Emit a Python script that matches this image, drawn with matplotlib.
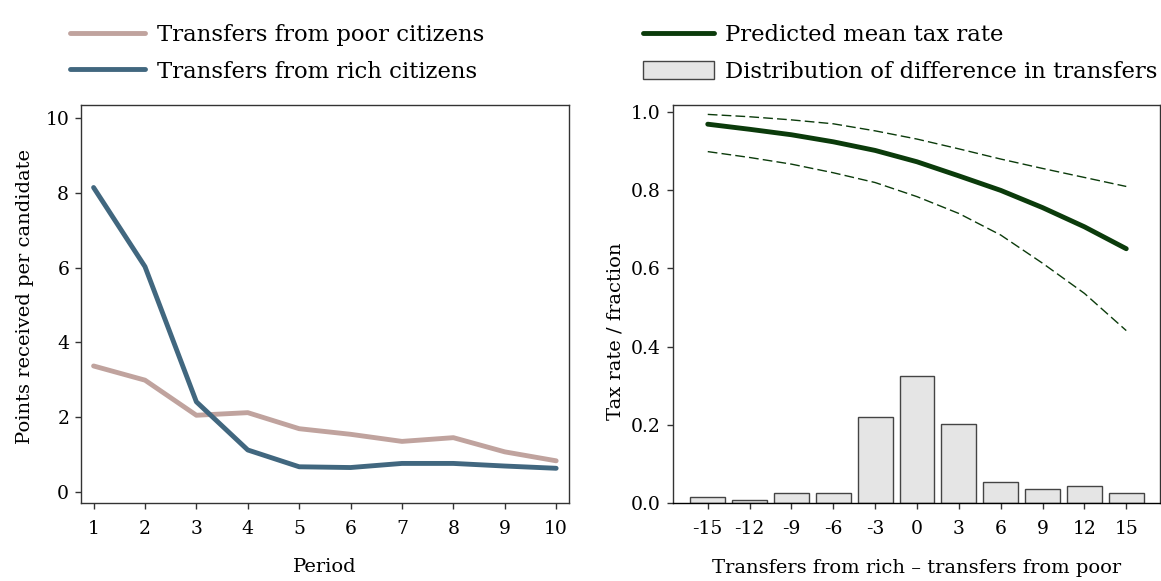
import matplotlib
matplotlib.use("Agg")
import matplotlib.pyplot as plt
from matplotlib.patches import Patch
from matplotlib.lines import Line2D

plt.rcParams['font.family'] = ['DejaVu Serif']

# Left panel data
periods = [1, 2, 3, 4, 5, 6, 7, 8, 9, 10]
poor = [3.37, 2.99, 2.05, 2.12, 1.69, 1.54, 1.35, 1.45, 1.07, 0.83]
rich = [8.15, 6.03, 2.41, 1.12, 0.67, 0.65, 0.76, 0.76, 0.69, 0.63]

# Right panel data
diffs = [-15, -12, -9, -6, -3, 0, 3, 6, 9, 12, 15]
dist = [0.017, 0.008, 0.027, 0.027, 0.221, 0.324, 0.203, 0.054, 0.036, 0.045, 0.027]
mean_tax = [0.968, 0.955, 0.941, 0.923, 0.901, 0.872, 0.836, 0.799, 0.755, 0.706, 0.650]
upper_ci = [0.993, 0.987, 0.979, 0.969, 0.951, 0.930, 0.905, 0.879, 0.855, 0.832, 0.809]
lower_ci = [0.898, 0.883, 0.866, 0.844, 0.819, 0.783, 0.740, 0.685, 0.613, 0.536, 0.441]

c_poor = '#c0a39e'
c_rich = '#41677f'
c_green = '#0b3b0b'

fig = plt.figure(figsize=(11.61, 5.81), dpi=100)
W, H = 1161, 581

def ax_rect(l, t, r, b):
    return [l / W, 1 - b / H, (r - l) / W, (b - t) / H]

ax1 = fig.add_axes(ax_rect(81, 105, 569, 503))
ax2 = fig.add_axes(ax_rect(672.6, 105, 1159.6, 503.3))

fs_tick = 13.5
fs_lab = 14
fs_leg = 16.4

ax1.plot(periods, poor, color=c_poor, lw=3.5, solid_capstyle='round')
ax1.plot(periods, rich, color=c_rich, lw=3.5, solid_capstyle='round')
ax1.set_xlim(0.755, 10.25)
ax1.set_ylim(-0.30, 10.36)
ax1.set_xticks(periods)
ax1.set_yticks([0, 2, 4, 6, 8, 10])
ax1.set_xlabel('Period', fontsize=fs_lab, labelpad=15)
ax1.set_ylabel('Points received per candidate', fontsize=fs_lab, va='center')
ax1.yaxis.set_label_coords(-0.114, 0.519)

ax2.bar(diffs, dist, width=2.5, color='#e5e5e5', edgecolor='#444444', linewidth=1.0, zorder=2)
ax2.plot(diffs, mean_tax, color=c_green, lw=3.5, solid_capstyle='round', zorder=3)
ax2.plot(diffs, upper_ci, color=c_green, lw=1.0, ls=(0, (7, 3)), zorder=3)
ax2.plot(diffs, lower_ci, color=c_green, lw=1.0, ls=(0, (7, 3)), zorder=3)
ax2.set_xlim(-17.52, 17.39)
ax2.set_ylim(0, 1.017)
ax2.set_xticks(diffs)
ax2.set_xticklabels([str(d) for d in diffs])
ax2.set_yticks([0.0, 0.2, 0.4, 0.6, 0.8, 1.0])
ax2.set_yticklabels(['0.0', '0.2', '0.4', '0.6', '0.8', '1.0'])
ax2.set_xlabel('Transfers from rich – transfers from poor', fontsize=fs_lab, labelpad=15)
ax2.set_ylabel('Tax rate / fraction', fontsize=fs_lab, va='center')
ax2.yaxis.set_label_coords(-0.118, 0.431)

for ax in (ax1, ax2):
    ax.tick_params(labelsize=fs_tick, length=4, width=1.0, color='#333333', pad=4.5)
    ax.tick_params(axis='x', pad=8)
    for s in ax.spines.values():
        s.set_linewidth(1.0)
        s.set_color('#333333')
ax2.spines['bottom'].set_color('#000000')

# Legends
h1 = [Line2D([], [], color=c_poor, lw=3.5, solid_capstyle='round'),
      Line2D([], [], color=c_rich, lw=3.5, solid_capstyle='round')]
fig.legend(h1, ['Transfers from poor citizens', 'Transfers from rich citizens'],
           loc='upper left', bbox_to_anchor=(70 / W, 1 - 24 / H), frameon=False,
           fontsize=fs_leg, handlelength=3.3, handleheight=0.87, handletextpad=0.5,
           labelspacing=0.65, borderaxespad=0, borderpad=0)
h2 = [Line2D([], [], color=c_green, lw=3.5, solid_capstyle='round'),
      Patch(facecolor='#e5e5e5', edgecolor='#444444', linewidth=1.0)]
fig.legend(h2, ['Predicted mean tax rate', 'Distribution of difference in transfers'],
           loc='upper left', bbox_to_anchor=(643 / W, 1 - 24 / H), frameon=False,
           fontsize=fs_leg, handlelength=3.1, handleheight=0.87, handletextpad=0.5,
           labelspacing=0.65, borderaxespad=0, borderpad=0)

fig.savefig('out.png', dpi=100)
